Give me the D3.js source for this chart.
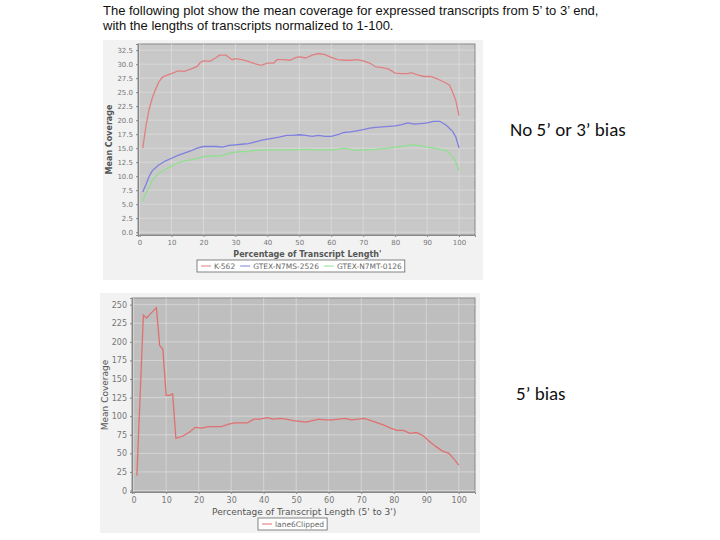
<!DOCTYPE html>
<html><head><meta charset="utf-8">
<script src="https://cdn.jsdelivr.net/npm/d3@7"></script>
<style>body{margin:0;background:#fff}svg{display:block}</style>
</head><body>
<svg id="c" width="720" height="540"></svg>
<script>
const titleLines=["The following plot show the mean coverage for expressed transcripts from 5’ to 3’ end,","with the lengths of transcripts normalized to 1-100."];
const topX=[1,2,3,4,5,6,7,8,10,12,14,16,18,19,20,22,24,25,27,29,30,32,34,36,38,40,42,43,45,47,49,50,52,54,56,58,60,62,64,66,68,70,72,74,76,78,80,82,84,85,87,89,91,93,95,97,98,99,100];
const k562=[15,19,22,24,25.5,26.8,27.6,27.9,28.3,28.8,28.7,29.1,29.6,30.3,30.6,30.5,31.2,31.6,31.6,30.8,31,30.8,30.5,30.1,29.8,30.2,30.2,30.8,30.8,30.7,31.2,31.3,31.1,31.6,31.9,31.7,31.2,30.8,30.7,30.7,30.8,30.6,30.2,29.5,29.4,29.1,28.4,28.3,28.3,28.5,28.1,27.8,27.8,27.4,26.9,26.3,25,23.5,20.8];
const blueX=[1,2,3,4,6,8,10,12,14,16,18,20,22,24,26,28,30,32,34,36,38,40,42,44,46,48,50,52,54,56,58,60,62,64,66,68,70,72,74,76,78,80,82,84,86,88,90,92,94,96,98,99,100];
const gtex2526=[7.2,8.5,10,11,12,12.7,13.2,13.7,14.1,14.5,15,15.3,15.3,15.3,15.2,15.5,15.6,15.7,15.8,16.1,16.4,16.6,16.8,17,17.3,17.3,17.4,17.3,17.1,17.3,17.1,17.1,17.4,17.8,17.9,18.1,18.3,18.6,18.7,18.8,18.9,19,19.2,19.5,19.3,19.4,19.5,19.8,19.8,19.1,18,17,15];
const greenX=[1,2,3,4,6,8,10,12,14,16,18,20,22,24,26,28,30,32,34,36,40,44,48,52,56,60,62,64,66,68,70,74,78,80,82,84,86,88,90,92,94,96,98,99,100];
const gtex0126=[5.5,7,8,9.3,10.5,11.2,11.8,12.4,12.7,12.9,13.2,13.5,13.6,13.6,13.7,14.1,14.3,14.4,14.4,14.6,14.7,14.7,14.7,14.8,14.7,14.7,14.8,15,14.8,14.6,14.7,14.8,15,15.2,15.3,15.5,15.6,15.4,15.2,15,14.8,14.6,13.5,12.5,11];
const seriesNames=["K-562","GTEX-N7MS-2526","GTEX-N7MT-0126"];
const topYTicks=[0,2.5,5,7.5,10,12.5,15,17.5,20,22.5,25,27.5,30,32.5];
const xTicks=[0,10,20,30,40,50,60,70,80,90,100];
const botX=[1,3,4,5,7,8,9,10,11,12,13,15,17,19,21,23,25,27,29,31,33,35,37,39,41,43,45,47,49,51,53,55,57,59,61,63,65,67,69,71,73,75,77,79,81,83,85,87,89,91,93,95,97,99,100];
const lane6=[20,236,232,237,246,195,190,128,128,130,70,73,78,85,84,86,86,86,89,91,91,91,96,96,98,96,97,96,94,93,92,94,96,95,95,96,97,95,96,97,94,91,88,84,81,81,77,78,74,66,59,53,50,40,34];
const botYTicks=[0,25,50,75,100,125,150,175,200,225,250];

const svg=d3.select("#c");
svg.selectAll("t").data(titleLines).enter().append("text")
 .attr("x",103).attr("y",(d,i)=>15+i*15).attr("font-family","Liberation Sans, Arial").attr("font-size",13).attr("fill","#111").text(d=>d);

function chart(o){
 const g=svg.append("g");
 g.append("rect").attr("x",o.bx).attr("y",o.by).attr("width",o.bw).attr("height",o.bh).attr("fill","#f2f2f2");
 const x=d3.scaleLinear().domain([-0.5,105]).range([o.l,o.r]);
 const y=d3.scaleLinear().domain(o.yd).range([o.b,o.t]);
 g.append("rect").attr("x",o.l).attr("y",o.t).attr("width",o.r-o.l).attr("height",o.b-o.t).attr("fill",o.bg).attr("stroke","#888");
 g.selectAll(".vg").data(xTicks).enter().append("line").attr("x1",d=>x(d)).attr("x2",d=>x(d)).attr("y1",o.t).attr("y2",o.b).attr("stroke","#e2e2e2").attr("stroke-width",0.6);
 g.selectAll(".hg").data(o.yt).enter().append("line").attr("y1",d=>y(d)).attr("y2",d=>y(d)).attr("x1",o.l).attr("x2",o.r).attr("stroke","#e2e2e2").attr("stroke-width",0.6);
 const fs=o.fs;
 const ax=g.append("g").attr("transform",`translate(0,${o.b})`).call(d3.axisBottom(x).tickValues(xTicks).tickSize(2).tickPadding(3));
 const ay=g.append("g").attr("transform",`translate(${o.l},0)`).call(d3.axisLeft(y).tickValues(o.yt).tickSize(2).tickPadding(3).tickFormat(o.fmt));
 [ax,ay].forEach(a=>{a.selectAll("text").attr("font-family","DejaVu Sans").attr("font-size",fs).attr("fill","#777");a.selectAll("line,path").attr("stroke","#888");});
 g.append("text").attr("x",(x(0)+x(100))/2+8).attr("y",o.b+fs+15).attr("text-anchor","middle").attr("font-family","DejaVu Sans").attr("font-weight",o.bold?"bold":"normal").attr("font-size",fs+1).attr("fill","#555").text(o.xl);
 g.append("text").attr("transform",`translate(${o.yl},${(o.t+o.b)/2}) rotate(-90)`).attr("text-anchor","middle").attr("font-family","DejaVu Sans").attr("font-weight",o.bold?"bold":"normal").attr("font-size",fs+1).attr("fill","#555").text("Mean Coverage");
 const line=d3.line().x(d=>x(d[0])).y(d=>y(d[1]));
 o.series.forEach(s=>{
  g.append("path").datum(s.x.map((v,i)=>[v,s.y[i]])).attr("d",line).attr("fill","none").attr("stroke",s.c).attr("stroke-width",1.3);
 });
 const lg=g.append("g");
 let cx=o.lx+4;
 o.series.forEach(s=>{
  const it=lg.append("g");
  it.append("line").attr("x1",cx).attr("x2",cx+10).attr("y1",o.ly).attr("y2",o.ly).attr("stroke",s.c);
  const t=it.append("text").attr("x",cx+13).attr("y",o.ly+3).attr("font-family","DejaVu Sans").attr("font-size",o.lfs).attr("fill","#666").text(s.n);
  cx+=13+t.node().getComputedTextLength()+5;
 });
 lg.insert("rect","g").attr("x",o.lx).attr("y",o.ly-6).attr("width",cx-o.lx-2).attr("height",12).attr("fill","#fff").attr("stroke","#666").attr("stroke-width",0.8);
}
chart({bx:103,by:40,bw:380,bh:240,l:138,r:475,t:44,b:235,yd:[-0.5,33.6],yt:topYTicks,fmt:d3.format(".1f"),fs:7,lfs:7.5,bg:"#c8c8c8",bold:true,
 xl:"Percentage of Transcript Length'",yl:112,lx:197,ly:266,
 series:[{x:topX,y:k562,c:"#e08080",n:seriesNames[0]},{x:blueX,y:gtex2526,c:"#7f7fe0",n:seriesNames[1]},{x:greenX,y:gtex0126,c:"#8fe08f",n:seriesNames[2]}]});
chart({bx:100,by:293,bw:380,bh:240,l:132,r:475,t:298,b:492,yd:[-2,259],yt:botYTicks,fmt:d3.format("d"),fs:8,lfs:7.5,bg:"#bebebe",bold:false,
 xl:"Percentage of Transcript Length (5' to 3')",yl:108,lx:258,ly:524,
 series:[{x:botX,y:lane6,c:"#e07070",n:"lane6Clipped"}]});
svg.append("text").attr("x",510).attr("y",136).attr("font-family","Carlito, Liberation Sans").attr("font-size",19).attr("fill","#111").text("No 5’ or 3’ bias");
svg.append("text").attr("x",516).attr("y",400).attr("font-family","Carlito, Liberation Sans").attr("font-size",19).attr("fill","#111").text("5’ bias");
</script>
</body></html>
